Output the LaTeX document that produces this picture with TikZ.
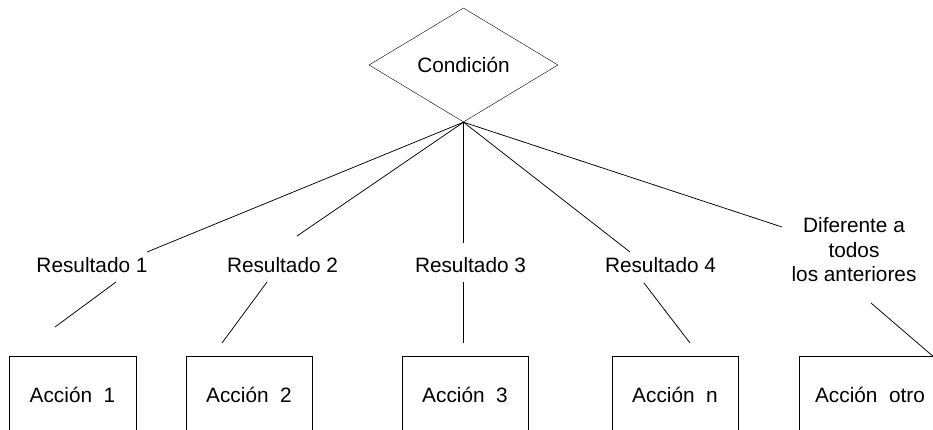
\documentclass[tikz,border=0pt]{standalone}
\usepackage{fontspec}
\setmainfont{Liberation Sans}
\usetikzlibrary{shapes.geometric}

\tikzset{
  txt/.style={font=\fontsize{20.8}{24.5}\selectfont, inner sep=0pt},
  cond/.style={txt, draw, diamond, aspect=1.66, minimum width=189pt, minimum height=114pt},
  lbl/.style={txt, anchor=base},
  actbox/.style={txt, draw, rectangle, minimum width=126.5pt, minimum height=77pt},
  wire/.style={line width=0.75pt}
}

\begin{document}
\begin{tikzpicture}[x=1pt, y=-1pt]
  \useasboundingbox (0,0) rectangle (933,429);
  \clip (0,0) rectangle (933,429);
  \fill[white] (0,0) rectangle (933,429);

  % decision
  \node[cond] (cond) at (463.5,65) {Condición};

  % branch labels
  \node[lbl] (r1) at (92,272.5) {Resultado 1};
  \node[lbl] (r2) at (282.5,272.5) {Resultado 2};
  \node[lbl] (r3) at (470.5,272.5) {Resultado 3};
  \node[lbl] (r4) at (660.5,272.5) {Resultado 4};
  \node[txt, align=center] (r5) at (854,250) {Diferente a\\todos\\los anteriores};

  % actions
  \node[actbox] (a1) at (72.5,395) {Acción~~1};
  \node[actbox] (a2) at (249,395) {Acción~~2};
  \node[actbox] (a3) at (465,395) {Acción~~3};
  \node[actbox] (a4) at (675,395) {Acción~~n};
  \node[actbox, minimum width=142pt] (a5) at (870,395) {Acción~~otro};

  % free ends of the connectors
  \coordinate (u1) at (147,252);
  \coordinate (u2) at (297,236);
  \coordinate (u3) at (463.5,243);
  \coordinate (u4) at (630,252);
  \coordinate (u5) at (782,227);

  \coordinate (s1) at (116,282);  \coordinate (e1) at (55,327);
  \coordinate (s2) at (267,282);  \coordinate (e2) at (222,343);
  \coordinate (s3) at (463.5,282);\coordinate (e3) at (463.5,343);
  \coordinate (s4) at (644,283);  \coordinate (e4) at (690,343);
  \coordinate (s5) at (871,303);  \coordinate (e5) at (935,358);

  % from the decision to each label
  \foreach \i in {1,...,5} {
    \draw[wire] (cond.south) -- (u\i);
  }
  % from each label towards its action
  \foreach \i in {1,...,5} {
    \draw[wire] (s\i) -- (e\i);
  }
\end{tikzpicture}
\end{document}
